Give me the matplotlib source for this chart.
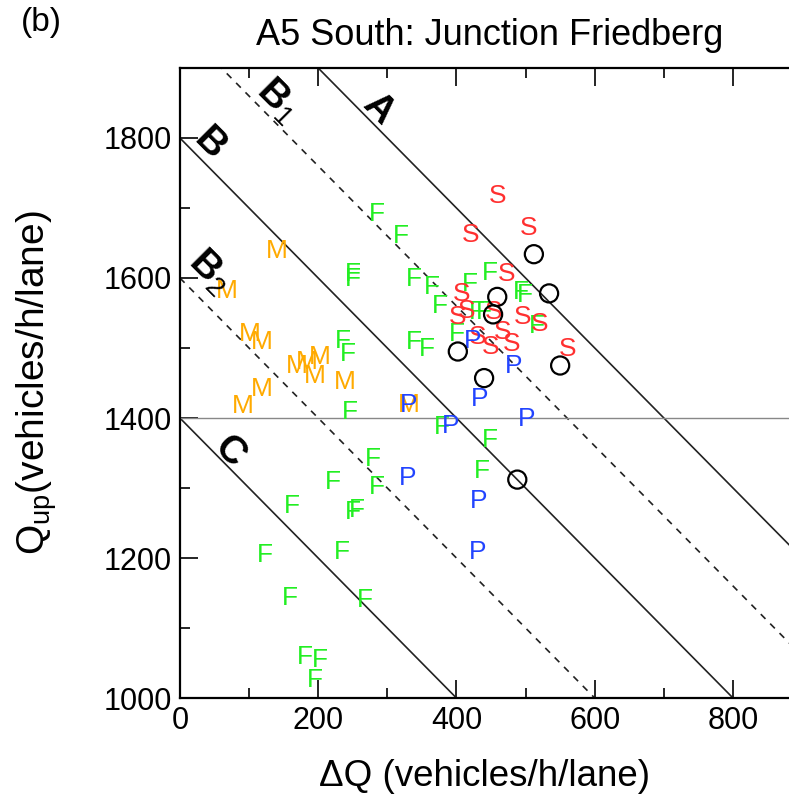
import numpy as np
import matplotlib
matplotlib.use("Agg")
import matplotlib.pyplot as plt
from matplotlib.ticker import MultipleLocator

plt.rcParams['font.family'] = ['Liberation Sans', 'DejaVu Sans']
plt.rcParams['mathtext.fontset'] = 'custom'
plt.rcParams['mathtext.rm'] = 'Liberation Sans'
plt.rcParams['mathtext.it'] = 'Liberation Sans'
plt.rcParams['mathtext.bf'] = 'Liberation Sans:bold'

# free-flow states (F)
f_dq = [285, 320, 250, 250, 338, 365, 376, 420, 430, 439, 449, 493, 499, 516, 401,
        338, 357, 236, 243, 246, 379, 449, 437, 279, 221, 285, 162, 250, 256, 123,
        234, 159, 268, 181, 203, 195]
f_q = [1691, 1660, 1606, 1598, 1598, 1587, 1560, 1591, 1551, 1551, 1607, 1580, 1575, 1531, 1520,
       1508, 1498, 1510, 1491, 1409, 1387, 1369, 1324, 1341, 1309, 1302, 1274, 1266, 1269, 1205,
       1209, 1143, 1140, 1059, 1054, 1026]

# moving synchronized patterns (M)
m_dq = [140, 68, 101, 118, 169, 184, 195, 203, 239, 118, 91, 331]
m_q = [1639, 1581, 1520, 1508, 1474, 1480, 1460, 1487, 1452, 1441, 1417, 1419]

# stationary patterns (S)
s_dq = [460, 420, 504, 473, 408, 401, 415, 454, 496, 520, 430, 449, 467, 480, 561]
s_q = [1717, 1661, 1671, 1606, 1577, 1544, 1553, 1551, 1544, 1534, 1515, 1501, 1523, 1505, 1498]

# pinned patterns (P)
p_dq = [423, 482, 434, 331, 502, 391, 330, 432, 430]
p_q = [1510, 1474, 1427, 1419, 1398, 1388, 1315, 1281, 1209]

# other states (circles)
o_dq = [512, 534, 459, 453, 402, 550, 440, 488]
o_q = [1634, 1578, 1573, 1548, 1495, 1475, 1457, 1312]

# boundaries Q_up + dQ = const
solid_sums = [2100, 1800, 1400]
dashed_sums = [1960, 1600]

fig = plt.figure(figsize=(7.89, 7.98), dpi=100)
ax = fig.add_axes([0.228, 0.1253, 0.772, 0.7895])

xs = np.array([0, 900])
for c in solid_sums:
    ax.plot(xs, c - xs, color='#222222', lw=1.2)
for c in dashed_sums:
    ax.plot(xs, c - xs, color='#222222', lw=1.2, ls=(0, (4, 4)))
ax.axhline(1400, color='#888888', lw=1.0)

kw = dict(ha='center', va='center', fontsize=19)
for x, y in zip(f_dq, f_q):
    ax.text(x, y, 'F', color='#22ee22', **kw)
for x, y in zip(m_dq, m_q):
    ax.text(x, y, 'M', color='#ffaa00', **kw)
for x, y in zip(s_dq, s_q):
    ax.text(x, y, 'S', color='#ff3030', **kw)
for x, y in zip(p_dq, p_q):
    ax.text(x, y, 'P', color='#2244ff', **kw)
ax.scatter(o_dq, o_q, s=170, facecolors='none', edgecolors='black', linewidths=1.6, zorder=5)

# region labels
lab = dict(fontsize=28, fontweight='bold', rotation=-45, ha='center', va='center')
ax.text(287, 1842, 'A', **lab)
ax.text(142, 1853, 'B$_1$', **lab)
ax.text(43, 1791, 'B', **lab)
ax.text(43, 1610, 'B$_2$', **lab)
ax.text(72, 1352, 'C', **lab)

ax.set_xlim(0, 881)
ax.set_ylim(1000, 1900)
ax.xaxis.set_major_locator(MultipleLocator(200))
ax.xaxis.set_minor_locator(MultipleLocator(100))
ax.yaxis.set_major_locator(MultipleLocator(200))
ax.yaxis.set_minor_locator(MultipleLocator(100))
ax.tick_params(which='both', direction='in', top=True, labelsize=22, width=1.2)
ax.tick_params(which='major', length=13, pad=6)
ax.tick_params(which='minor', length=7)
ax.spines['right'].set_visible(False)
for s in ['left', 'bottom', 'top']:
    ax.spines[s].set_linewidth(1.6)

ax.set_xlabel('ΔQ (vehicles/h/lane)', fontsize=26.5, labelpad=16)
ax.set_ylabel('Q$_{\\mathrm{up}}$(vehicles/h/lane)', fontsize=28, labelpad=32)

fig.text(0.621, 0.956, 'A5 South: Junction Friedberg', fontsize=26, ha='center', va='center')
fig.text(0.027, 0.972, '(b)', fontsize=24, ha='left', va='center')

fig.savefig('out.png', dpi=100)
